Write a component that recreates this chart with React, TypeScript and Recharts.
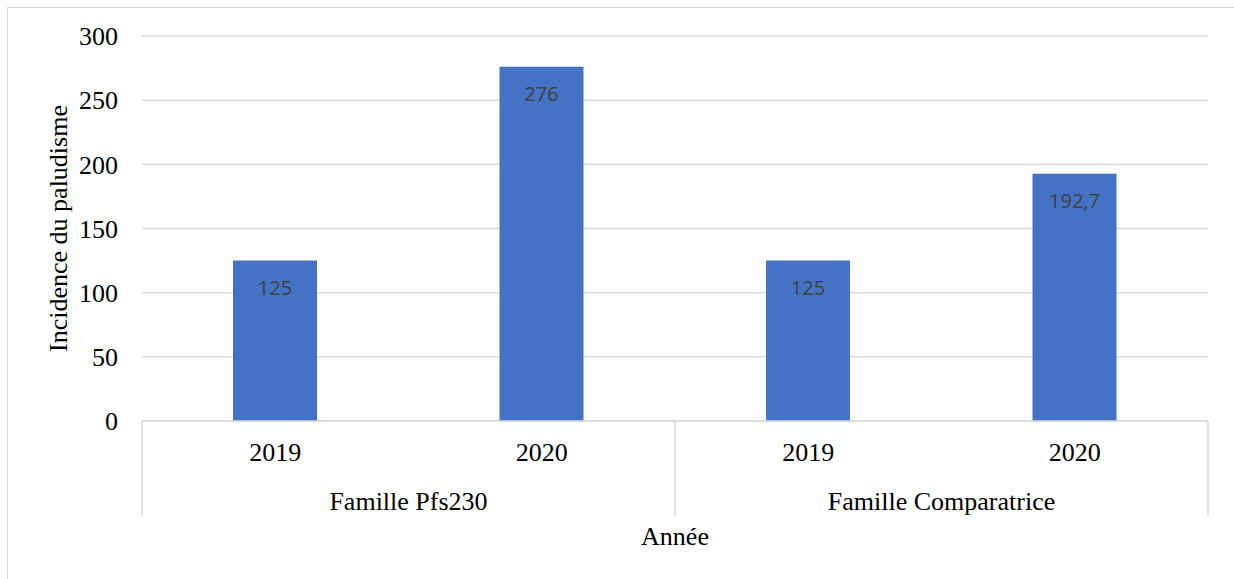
import React from 'react'
import { BarChart, Bar, XAxis, YAxis, CartesianGrid, LabelList, Label } from 'recharts'

const years = ['2019', '2020', '2019', '2020']
const families = ['Famille Pfs230', 'Famille Pfs230', 'Famille Comparatrice', 'Famille Comparatrice']
const incidence = [125, 276, 125, 192.7]
const yTicks = [0, 50, 100, 150, 200, 250, 300]

const data = years.map((year, i) => ({
  key: `${families[i]}-${year}`,
  year,
  family: families[i],
  incidence: incidence[i],
}))

const W = 1234
const H = 579
const margin = { top: 36, right: 26, left: 62, bottom: 62 }
const yAxisWidth = 80
const plotWidth = W - margin.left - margin.right - yAxisWidth
const band = plotWidth / data.length
const serif = '"Liberation Serif", "Times New Roman", serif'
const grey = '#d9d9d9'

function TwoLevelTick(props: any) {
  const { x, y, index } = props
  const d = data[index]
  const first = index === 0 || data[index - 1].family !== d.family
  const last = index === data.length - 1
  return (
    <g>
      <text x={x} y={y + 40} textAnchor="middle" fontFamily={serif} fontSize={26} fill="#000">
        {d.year}
      </text>
      {first && (
        <>
          <line x1={x - band / 2} x2={x - band / 2} y1={y} y2={y + 95} stroke={grey} strokeWidth={1.5} />
          <text x={x + band / 2} y={y + 89} textAnchor="middle" fontFamily={serif} fontSize={26} fill="#000">
            {d.family}
          </text>
        </>
      )}
      {last && <line x1={x + band / 2} x2={x + band / 2} y1={y} y2={y + 95} stroke={grey} strokeWidth={1.5} />}
    </g>
  )
}

export default function App() {
  return (
    <div style={{ position: 'absolute', left: 0, top: 0, width: W, height: H, overflow: 'hidden', background: '#fff' }}>
      <div
        style={{
          position: 'absolute',
          left: 7,
          top: 7,
          width: 1240,
          height: 600,
          border: `1px solid ${grey}`,
        }}
      />
      <div style={{ position: 'absolute', left: 0, top: 0 }}>
        <BarChart width={W} height={H} data={data} margin={margin}>
          <CartesianGrid vertical={false} stroke={grey} strokeWidth={1.5} />
          <XAxis
            dataKey="key"
            axisLine={{ stroke: grey, strokeWidth: 1.5 }}
            tickLine={false}
            tickSize={0}
            tickMargin={0}
            height={96}
            interval={0}
            tick={<TwoLevelTick />}
          >
            <Label
              value="Année"
              position="bottom"
              offset={10}
              style={{ fontFamily: serif, fontSize: 26, fill: '#000' }}
            />
          </XAxis>
          <YAxis
            width={yAxisWidth}
            domain={[0, 300]}
            ticks={yTicks}
            axisLine={false}
            tickLine={false}
            tickMargin={18}
            tick={{ fontFamily: serif, fontSize: 26, fill: '#000' }}
          >
            <Label
              value="Incidence du paludisme"
              angle={-90}
              position="center"
              dx={-44}
              style={{ fontFamily: serif, fontSize: 26, fill: '#000', textAnchor: 'middle' }}
            />
          </YAxis>
          <Bar dataKey="incidence" fill="#4472C4" barSize={84} isAnimationActive={false}>
            <LabelList
              dataKey="incidence"
              position="insideTop"
              offset={20}
              formatter={(v: any) => String(v).replace('.', ',')}
              style={{ fontFamily: '"Open Sans", "Liberation Sans", sans-serif', fontSize: 20, fill: '#404040' }}
            />
          </Bar>
        </BarChart>
      </div>
    </div>
  )
}
